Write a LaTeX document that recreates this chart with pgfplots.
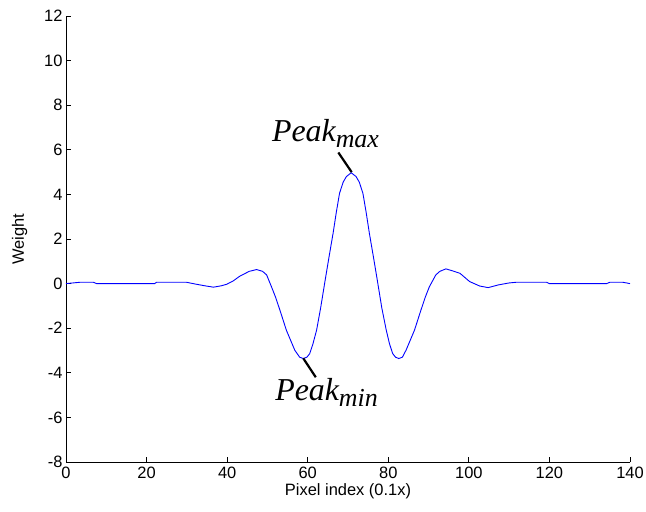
\documentclass[border=0pt]{standalone}
\usepackage{fontspec}
\setmainfont{Liberation Sans}
\newfontfamily\peakfont{Liberation Serif}
\usepackage{pgfplots}
\pgfplotsset{compat=1.18}

\newcommand{\peak}[1]{{\peakfont\itshape\fontsize{32}{32}\selectfont Peak\raisebox{-6bp}{\fontsize{26}{26}\selectfont #1}}}

\begin{document}
\begin{tikzpicture}
\begin{axis}[
    scale only axis, width=564bp, height=446bp,
    xmin=0, xmax=140, ymin=-8, ymax=12,
    xtick={0,20,...,140}, ytick={-8,-6,...,12},
    axis x line*=bottom, axis y line*=left,
    axis line style={black, line width=0.8pt},
    tick align=inside, major tick length=5bp,
    tick style={black, line width=0.8pt},
    /pgf/number format/assume math mode=true,
    ticklabel style={font=\fontsize{16.5}{19}\selectfont},
    xticklabel style={yshift=-2bp},
    label style={font=\fontsize{16.5}{19}\selectfont},
    xlabel={Pixel index (0.1x)},
    ylabel={Weight},
    xlabel style={yshift=2bp},
    ylabel style={yshift=10bp},
    clip=false,
]
\addplot[blue, line width=0.9pt] coordinates {
    (0,0) (3.5,0.06) (6.8,0.06) (7.6,0) (22,0) (22.5,0.06) (29.9,0.06)
    (32.4,-0.03) (34.5,-0.1) (36.6,-0.16) (38.5,-0.1) (39.9,-0.03)
    (41.5,0.12) (43.2,0.34) (45.5,0.55) (47.3,0.63) (48.8,0.55) (49.8,0.39)
    (51.0,-0.14) (52,-0.6) (53.1,-1.19) (54.7,-2.09) (56.8,-2.99) (58,-3.3)
    (58.9,-3.36) (59.8,-3.3) (60.5,-3.14) (61.3,-2.7) (62.2,-2.09)
    (63.2,-1.1) (64.2,0.01) (65.2,1.1) (66.3,2.26) (67.1,3.2) (67.9,4.05)
    (68.8,4.55) (69.6,4.8) (70.8,4.97) (72.0,4.8) (72.8,4.55) (73.7,4.05)
    (74.5,3.2) (75.3,2.26) (76.4,1.1) (77.4,0.01) (78.4,-1.1) (79.5,-2.09)
    (80.3,-2.7) (81.1,-3.14) (81.8,-3.3) (82.6,-3.36) (83.5,-3.3)
    (84.4,-2.99) (86.5,-2.09) (88.1,-1.19) (89.2,-0.6) (90.2,-0.14)
    (91.8,0.39) (92.8,0.55) (94.3,0.66) (95.8,0.58) (97.8,0.46)
    (100.2,0.09) (102.7,-0.11) (104.8,-0.18) (107.3,-0.06) (110,0.03)
    (111.8,0.06) (119.3,0.06) (120,0) (134.2,0) (135,0.06) (138.2,0.06)
    (140,0)
};
% annotations
\draw[black, line width=2.2pt] (axis cs:67.6,5.88) -- (axis cs:70.9,5.0);
\draw[black, line width=2.2pt] (axis cs:58.9,-3.35) -- (axis cs:62.0,-4.2);
\node[anchor=base west, inner sep=0pt] at (axis cs:51.1,6.39) {\peak{max}};
\node[anchor=base west, inner sep=0pt] at (axis cs:51.9,-5.22) {\peak{min}};
\end{axis}
\path (current axis.south west) ++(-66bp,-50bp) coordinate (bbA);
\path (current axis.north east) ++(16bp,16bp) coordinate (bbB);
\pgfresetboundingbox
\path[use as bounding box] (bbA) rectangle (bbB);
\end{tikzpicture}
\end{document}
